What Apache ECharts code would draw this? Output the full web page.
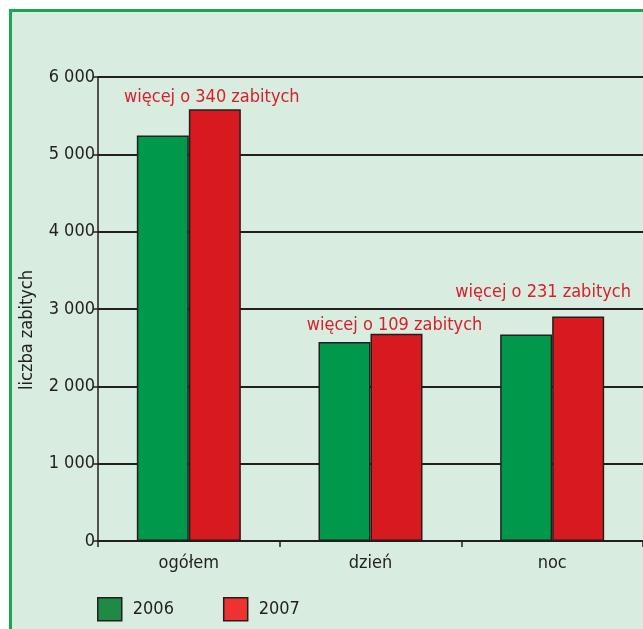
<!DOCTYPE html>
<html>
<head>
<meta charset="utf-8" />
<script src="https://cdn.jsdelivr.net/npm/echarts@6/dist/echarts.min.js"></script>
<style>
	html, body { margin: 0; padding: 0; background: #ffffff; }
	#frame { position: absolute; left: 9px; top: 9px; right: 0; bottom: 0;
		border-left: 3px solid #1aa553; border-top: 3px solid #1aa553; background: #d8ecdf; }
	#main { position: absolute; left: 0; top: 0; width: 643px; height: 629px; }
</style>
</head>
<body>
<div id="frame"></div>
<div id="main"></div>
<script type="text/javascript">
// dane
var categories = ['ogółem', 'dzień', 'noc'];
var years = ['2006', '2007'];
var killed2006 = [5243, 2572, 2671];
var killed2007 = [5583, 2681, 2902];
var notes = ['więcej o 340 zabitych', 'więcej o 109 zabitych', 'więcej o 231 zabitych'];
var noteOffsets = [[-3, 2], [-2, 6], [-35, -10]];

var FONT = '"Liberation Sans Narrow", "DejaVu Sans Condensed", sans-serif';
var INK = '#231f20';

function fmt(v) {
	return String(v).replace(/\B(?=(\d{3})+(?!\d))/g, ' ');
}

var myChart = echarts.init(document.getElementById('main'), null, { renderer: 'canvas' });

var data2007 = killed2007.map(function (v, i) {
	return {
		value: v,
		label: { show: true, position: 'top', offset: noteOffsets[i], formatter: notes[i] }
	};
});

var option = {
	backgroundColor: 'transparent',
	animation: false,
	textStyle: { fontFamily: FONT },
	grid: { left: 98, right: 0, top: 77, bottom: 88 },
	legend: {
		left: 92, top: 592,
		itemWidth: 24, itemHeight: 23, itemGap: 49,
		icon: 'rect',
		textStyle: { fontFamily: FONT, fontSize: 18, color: INK, padding: [0, 0, 0, 6] },
		data: [
			{ name: years[0], itemStyle: { color: '#1e8a45', borderColor: INK, borderWidth: 1.5 } },
			{ name: years[1], itemStyle: { color: '#ee3232', borderColor: INK, borderWidth: 1.5 } }
		]
	},
	xAxis: {
		type: 'category',
		data: categories,
		axisLine: { lineStyle: { color: INK, width: 1.5 } },
		axisTick: { show: true, length: 6, lineStyle: { color: INK, width: 1.5 } },
		axisLabel: { fontFamily: FONT, fontSize: 18, color: INK, margin: 13 }
	},
	yAxis: {
		type: 'value',
		min: 0, max: 6000, interval: 1000,
		name: 'liczba zabitych',
		nameLocation: 'middle',
		nameGap: 62,
		nameTextStyle: { fontFamily: FONT, fontSize: 18, color: INK, padding: [0, 42, 0, 0] },
		axisLine: { show: true, lineStyle: { color: INK, width: 1.5 } },
		axisTick: { show: true, length: 5, lineStyle: { color: INK, width: 1.5 } },
		axisLabel: { fontFamily: FONT, fontSize: 18, color: INK, margin: 3, formatter: fmt },
		splitLine: { show: true, lineStyle: { color: INK, width: 2 } }
	},
	series: [
		{
			name: years[0], type: 'bar', data: killed2006,
			barWidth: 52, barGap: '0%',
			itemStyle: { color: '#00984a', borderColor: INK, borderWidth: 1.5 }
		},
		{
			name: years[1], type: 'bar', data: data2007,
			barWidth: 52, barGap: '0%',
			itemStyle: { color: '#d71920', borderColor: INK, borderWidth: 1.5 },
			label: { fontFamily: FONT, fontSize: 18, color: '#d7202c', distance: 5 }
		}
	]
};
myChart.setOption(option);
</script>
</body>
</html>
